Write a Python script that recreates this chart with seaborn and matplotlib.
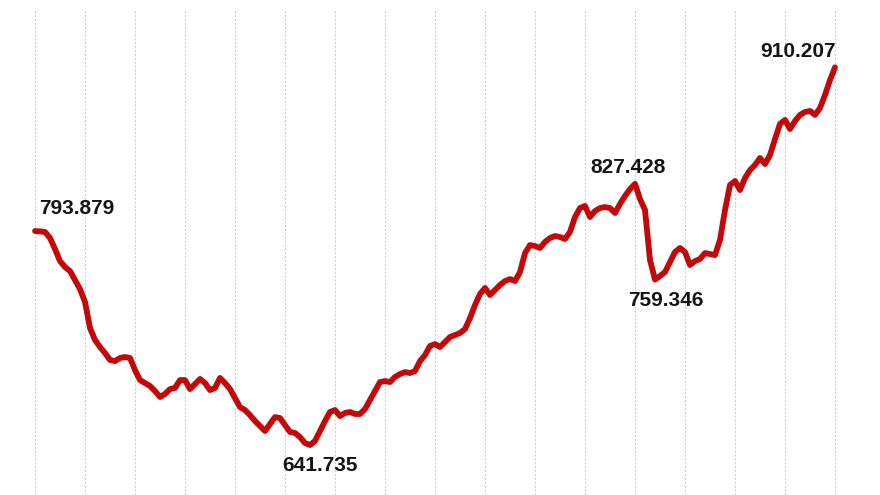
import numpy as np
import pandas as pd
import matplotlib
matplotlib.use("Agg")
import matplotlib.pyplot as plt
import seaborn as sns

# Values (one every ~5 px)
values = [
    793.879, 793.6, 793.2, 788.9, 781.1, 772.5, 768.3, 765.4, 759.0, 752.6,
    743.4, 724.9, 716.4, 711.4, 707.1, 702.2, 701.4, 703.6, 704.3, 703.6,
    695.0, 687.9, 685.8, 683.7, 680.1, 675.9, 678.0, 681.5, 682.3, 687.9,
    687.9, 681.5, 685.1, 688.7, 685.8, 680.8, 682.3, 689.4, 685.8, 681.5,
    675.1, 668.7, 666.6, 663.0, 658.8, 655.2, 651.7, 656.6, 661.6, 660.9,
    655.9, 651.0, 650.3, 647.4, 643.1, 641.735, 644.6, 651.7, 658.8, 665.2,
    666.6, 662.3, 664.5, 665.2, 663.8, 663.8, 667.3, 673.7, 680.1, 686.5,
    687.2, 686.5, 690.1, 692.2, 693.6, 692.9, 694.3, 701.4, 705.7, 712.1,
    713.5, 711.4, 715.0, 718.5, 719.9, 721.4, 724.2, 732.0, 741.3, 749.1,
    753.4, 748.4, 751.9, 755.5, 758.3, 759.7, 758.3, 764.7, 778.2, 783.9,
    783.2, 781.8, 786.1, 788.9, 790.3, 789.6, 788.2, 793.2, 803.8, 810.2,
    811.7, 803.8, 808.1, 810.2, 810.9, 810.2, 806.7, 813.1, 818.8, 823.7,
    827.428, 816.6, 808.8, 773.3, 759.346, 761.9, 764.7, 771.8, 778.9, 781.8,
    778.9, 769.7, 772.5, 774.0, 778.2, 777.5, 776.8, 787.5, 808.8, 826.6,
    829.4, 823.0, 831.6, 837.2, 840.8, 845.8, 841.5, 847.9, 859.3, 870.0,
    872.8, 866.4, 872.1, 876.4, 878.5, 879.2, 876.4, 881.3, 890.6, 901.2,
    910.207,
]

# labelled points: index into values, text offset in points
label_idx = [0, 55, 120, 124, 160]
label_offsets = [(30, 16), (7, -14.5), (-5, 12), (8, -15), (-26.5, 11.5)]

df = pd.DataFrame({"t": np.arange(len(values)), "value": values})

sns.set_style("white")
plt.rcParams["font.family"] = ["Liberation Sans", "DejaVu Sans"]

fig = plt.figure(figsize=(8.8, 4.95), dpi=100)
ax = fig.add_axes([0, 0, 1, 1 - 10 / 495])

sns.lineplot(data=df, x="t", y="value", ax=ax, color="#c20a0a",
             linewidth=4.2, solid_capstyle="round", solid_joinstyle="round")

ax.set_xlim(-7, 169)
ax.set_ylim(606.2, 951.0)
ax.set_xticks(np.arange(0, 161, 10))
ax.grid(axis="x", color="#d0d0d0", linestyle=(0, (2, 1.5)), linewidth=0.8)
ax.grid(axis="y", visible=False)
ax.set_axisbelow(True)
ax.tick_params(length=0, labelbottom=False, labelleft=False)
ax.set_xlabel("")
ax.set_ylabel("")
for s in ax.spines.values():
    s.set_visible(False)

for i, off in zip(label_idx, label_offsets):
    ax.annotate(f"{values[i]:.3f}", xy=(i, values[i]), xytext=off,
                textcoords="offset points", ha="center", va="center",
                fontsize=15, fontweight="bold", color="#151515",
                annotation_clip=False)

fig.savefig("out.png", dpi=100)
